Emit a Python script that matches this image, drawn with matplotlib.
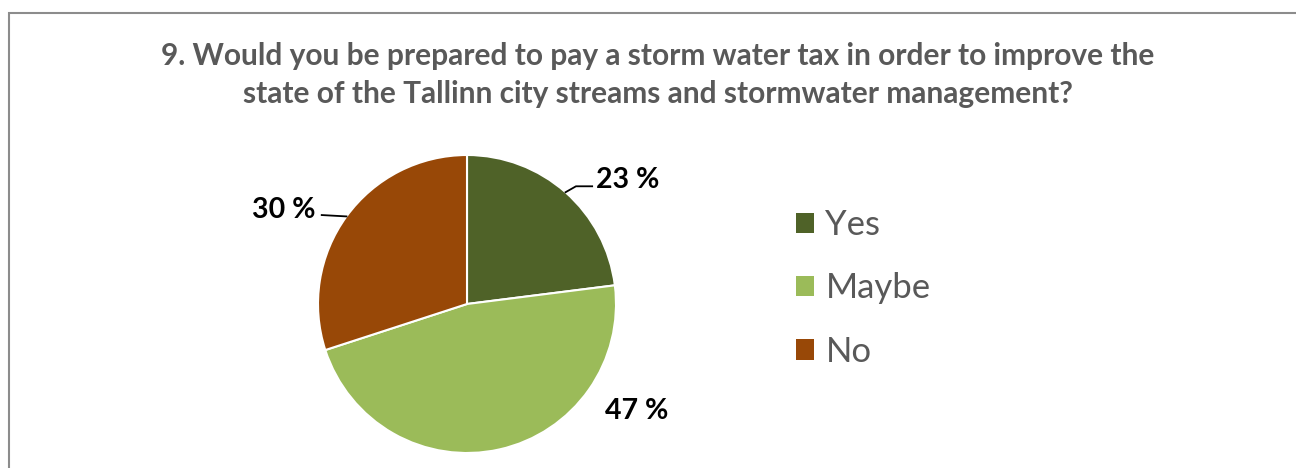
import matplotlib
matplotlib.use("Agg")
import matplotlib.pyplot as plt
from matplotlib.patches import Rectangle, Patch
import numpy as np

title = "9. Would you be prepared to pay a storm water tax in order to improve the\nstate of the Tallinn city streams and stormwater management?"
labels = ["Yes", "Maybe", "No"]
values = [23, 47, 30]
colors = ["#4F6228", "#9BBB59", "#984807"]

plt.rcParams['font.family'] = ['Lato', 'DejaVu Sans']

W, H = 1296, 468
fig = plt.figure(figsize=(W / 100, H / 100), dpi=100)

# outer frame like the Excel chart area
fig.patches.append(Rectangle((9 / W, -0.1), 1.2, 1 - 12.5 / H + 0.1, transform=fig.transFigure,
                             fill=False, edgecolor="#8C8C8C", linewidth=1.5))

fig.text(658 / W, 1 - 75 / H, title, ha="center", va="center", fontsize=21.5,
         fontweight="bold", color="#595959", linespacing=1.42)

# pie axes: centre (467, 304), radius 149 px
cx, cy, r = 467, 304, 149
ax = fig.add_axes([(cx - r) / W, (H - cy - r) / H, 2 * r / W, 2 * r / H])
wedges, _ = ax.pie(values, colors=colors, startangle=90, counterclock=False,
                   wedgeprops=dict(edgecolor="white", linewidth=1.5))
ax.set_xlim(-1, 1)
ax.set_ylim(-1, 1)
ax.axis("off")

# label positions (relative to radius)
lab_pos = [(1.08, 0.83), (1.14, -0.72), (-1.23, 0.63)]
for w, v, (lx, ly) in zip(wedges, values, lab_pos):
    mid = np.deg2rad((w.theta1 + w.theta2) / 2)
    ex, ey = np.cos(mid), np.sin(mid)
    ax.text(lx, ly, "{} %".format(v), ha="center", va="center", fontsize=20.5,
            fontweight="bold", color="black", clip_on=False)
    if v == 23:
        ax.plot([ex, ex + 0.07, lx - 0.24], [ey, ly - 0.04, ly - 0.04], color="black", lw=1.3, clip_on=False)
    elif v == 30:
        ax.plot([ex, lx + 0.255], [ey, ly - 0.033], color="black", lw=1.3, clip_on=False)

handles = [Patch(facecolor=c, edgecolor="none") for c in colors]
fig.legend(handles, labels, loc="upper left", bbox_to_anchor=(765 / W, 1 - 178 / H),
           frameon=False, fontsize=25, labelcolor="#595959", handlelength=0.52,
           handleheight=0.52, handletextpad=0.32, labelspacing=0.9)

fig.savefig("out.png", dpi=100)
